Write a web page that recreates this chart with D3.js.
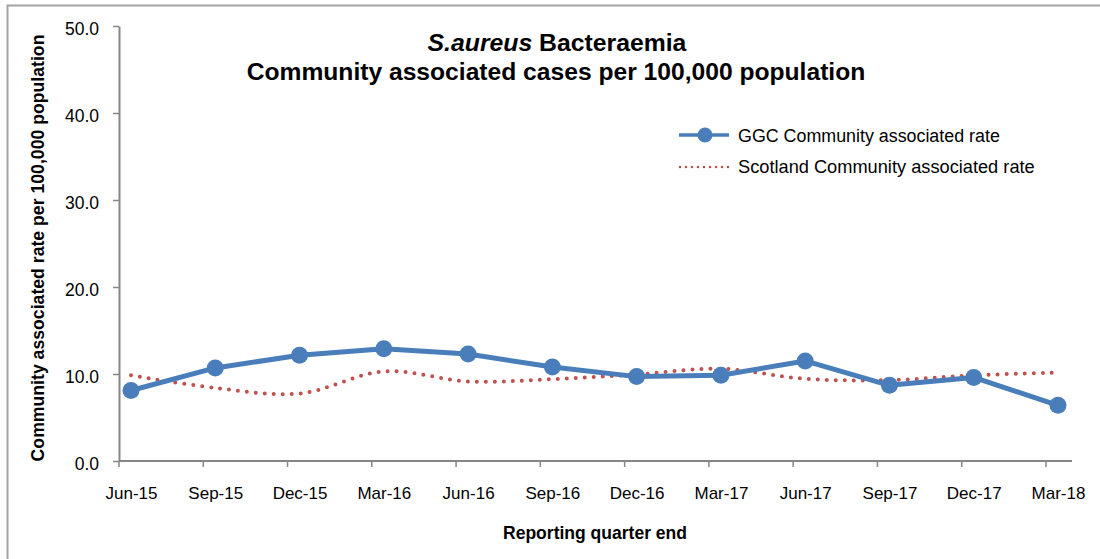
<!DOCTYPE html>
<html>
<head>
<meta charset="utf-8">
<script src="https://cdn.jsdelivr.net/npm/d3@7"></script>
<style>
  body { margin: 0; background: #fff; }
  text { font-family: "Liberation Sans", Arial, sans-serif; fill: #000; }
</style>
</head>
<body>
<div id="chart"></div>
<script>
// data
var quarters = ["Jun-15", "Sep-15", "Dec-15", "Mar-16", "Jun-16", "Sep-16",
                "Dec-16", "Mar-17", "Jun-17", "Sep-17", "Dec-17", "Mar-18"];
var ggcRate = [8.1, 10.7, 12.15, 12.9, 12.3, 10.8, 9.7, 9.85, 11.5, 8.7, 9.6, 6.4];
var scotlandRate = [9.85, 8.4, 7.75, 10.3, 9.15, 9.4, 9.95, 10.6, 9.45, 9.3, 9.85, 10.15];
var yTicks = [0, 10, 20, 30, 40, 50];
var seriesNames = ["GGC Community  associated rate", "Scotland Community  associated rate"];

var svgWidth = 1100;
var svgHeight = 559;

var margin = { top: 26, right: 28, bottom: 98, left: 119 };
var chartWidth = svgWidth - margin.left - margin.right;
var chartHeight = svgHeight - margin.top - margin.bottom;

var blue = "#4a7ebb";
var red = "#c0504d";
var axisGrey = "#868686";

var svg = d3.select("#chart")
  .append("svg")
  .attr("width", svgWidth)
  .attr("height", svgHeight);

// outer chart border (runs off the right / bottom edge)
svg.append("rect")
  .attr("x", 7.5)
  .attr("y", 5.5)
  .attr("width", svgWidth)
  .attr("height", svgHeight)
  .attr("fill", "none")
  .attr("stroke", "#a3a3a3")
  .attr("stroke-width", 2);

var chartGroup = svg.append("g")
  .attr("transform", `translate(${margin.left}, ${margin.top})`);

// scales
var xScale = d3.scalePoint()
  .domain(quarters)
  .range([12, chartWidth - 14]);

var yScale = d3.scaleLinear()
  .domain([0, 50])
  .range([chartHeight, 0]);

// shrink / grow a text so it spans a given width
function fitWidth(sel, w) {
  var node = sel.node();
  var fs = parseFloat(sel.attr("font-size"));
  var len = node.getComputedTextLength();
  sel.attr("font-size", fs * w / len);
}

// y axis
var yAxis = d3.axisLeft(yScale)
  .tickValues(yTicks)
  .tickFormat(d3.format(".1f"))
  .tickSizeInner(6)
  .tickSizeOuter(0);

var yAxisG = chartGroup.append("g")
  .attr("class", "yaxis")
  .call(yAxis);
yAxisG.select(".domain").attr("stroke", axisGrey).attr("stroke-width", 2);
yAxisG.selectAll(".tick line").attr("stroke", axisGrey).attr("stroke-width", 1.5);
yAxisG.selectAll(".tick text")
  .attr("x", -20)
  .attr("dy", "0.48em")
  .attr("font-size", 17.5)
  .attr("font-weight", "normal")
  .attr("font-family", "Liberation Sans, Arial, sans-serif")
  .attr("fill", "#111");

// x axis: labels from the point scale, tick marks sit between categories
var xAxis = d3.axisBottom(xScale).tickSize(0);
var xAxisG = chartGroup.append("g")
  .attr("class", "xaxis")
  .attr("transform", `translate(0, ${chartHeight})`)
  .call(xAxis);
xAxisG.select(".domain").remove();
xAxisG.selectAll(".tick text")
  .attr("y", 38)
  .attr("dy", 0)
  .attr("font-size", 17)
  .attr("font-weight", "normal")
  .attr("font-family", "Liberation Sans, Arial, sans-serif")
  .attr("fill", "#111");

xAxisG.append("line")
  .attr("x1", 0)
  .attr("x2", chartWidth)
  .attr("stroke", axisGrey)
  .attr("stroke-width", 2);

xAxisG.selectAll(".xtick")
  .data(quarters)
  .enter()
  .append("line")
  .attr("class", "xtick")
  .attr("x1", d => xScale(d) - 12)
  .attr("x2", d => xScale(d) - 12)
  .attr("y1", 0)
  .attr("y2", 6)
  .attr("stroke", axisGrey)
  .attr("stroke-width", 1.5);

// Scotland rate - smoothed dotted line
var scotLine = d3.line()
  .x((d, i) => xScale(quarters[i]))
  .y(d => yScale(d))
  .curve(d3.curveCatmullRom.alpha(0.5));

chartGroup.append("path")
  .datum(scotlandRate)
  .attr("d", scotLine)
  .attr("fill", "none")
  .attr("stroke", red)
  .attr("stroke-width", 4)
  .attr("stroke-linecap", "round")
  .attr("stroke-dasharray", "0 9");

// GGC rate - straight line with markers
var ggcLine = d3.line()
  .x((d, i) => xScale(quarters[i]))
  .y(d => yScale(d));

chartGroup.append("path")
  .datum(ggcRate)
  .attr("d", ggcLine)
  .attr("fill", "none")
  .attr("stroke", blue)
  .attr("stroke-width", 5)
  .attr("stroke-linejoin", "round");

chartGroup.append("g")
  .selectAll("circle")
  .data(ggcRate)
  .enter()
  .append("circle")
  .attr("cx", (d, i) => xScale(quarters[i]))
  .attr("cy", d => yScale(d))
  .attr("r", 8.5)
  .attr("fill", blue);

// title
var title1 = svg.append("text")
  .attr("x", 557)
  .attr("y", 51)
  .attr("text-anchor", "middle")
  .attr("font-size", 22)
  .attr("font-weight", "bold");
title1.append("tspan").attr("font-style", "italic").text("S.aureus");
title1.append("tspan").text(" Bacteraemia");
fitWidth(title1, 259);

var title2 = svg.append("text")
  .attr("x", 556)
  .attr("y", 80)
  .attr("text-anchor", "middle")
  .attr("font-size", 22)
  .attr("font-weight", "bold")
  .text("Community associated cases per 100,000 population");
fitWidth(title2, 619);

// axis titles
var yTitle = svg.append("text")
  .attr("transform", "translate(44, 248) rotate(-90)")
  .attr("text-anchor", "middle")
  .attr("font-size", 15)
  .attr("font-weight", "bold")
  .text("Community associated  rate per 100,000 population");
fitWidth(yTitle, 427);

var xTitle = svg.append("text")
  .attr("x", 595)
  .attr("y", 539)
  .attr("text-anchor", "middle")
  .attr("font-size", 15)
  .attr("font-weight", "bold")
  .text("Reporting quarter end");
fitWidth(xTitle, 184);

// legend
var legend = svg.append("g").attr("transform", "translate(679, 135)");

legend.append("line")
  .attr("x1", 0).attr("x2", 50)
  .attr("y1", 0).attr("y2", 0)
  .attr("stroke", blue)
  .attr("stroke-width", 3.5);
legend.append("circle")
  .attr("cx", 26).attr("cy", 0).attr("r", 7.5)
  .attr("fill", blue);
var leg1 = legend.append("text")
  .attr("x", 59).attr("y", 7)
  .attr("font-size", 16)
  .text(seriesNames[0]);
fitWidth(leg1, 262);

legend.append("line")
  .attr("x1", 1).attr("x2", 50)
  .attr("y1", 32).attr("y2", 32)
  .attr("stroke", red)
  .attr("stroke-width", 2.5)
  .attr("stroke-linecap", "round")
  .attr("stroke-dasharray", "0 6");
var leg2 = legend.append("text")
  .attr("x", 59).attr("y", 38)
  .attr("font-size", 16)
  .text(seriesNames[1]);
fitWidth(leg2, 297);
</script>
</body>
</html>
